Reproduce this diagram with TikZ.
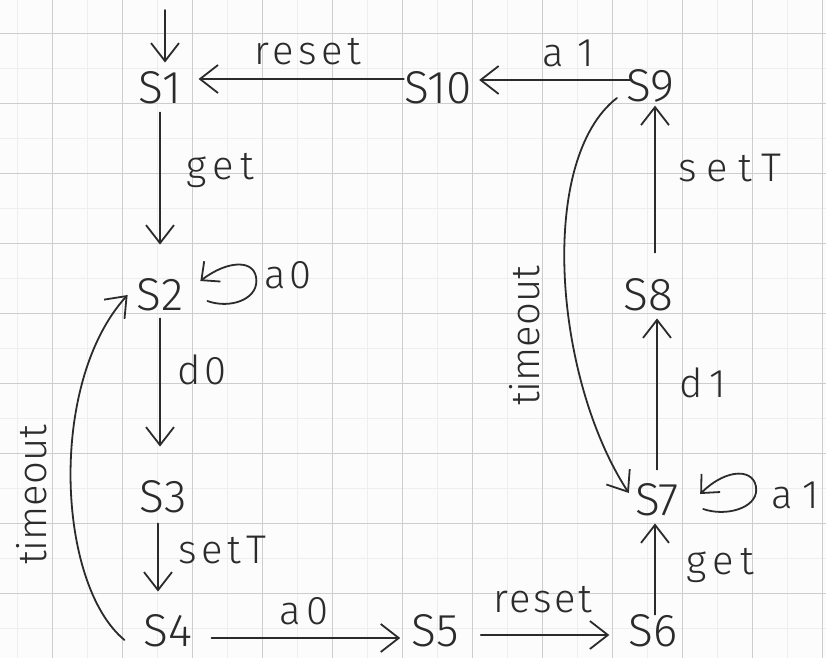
\documentclass[tikz,border=0pt]{standalone}
\usepackage{fontspec}
\setmainfont{Fira Sans Light}
\usetikzlibrary{arrows.meta,bending,calc}
\definecolor{ink}{HTML}{2B2B2B}
\definecolor{gridmajor}{HTML}{CDCDCD}
\definecolor{gridminor}{HTML}{EEEEEE}
\definecolor{paper}{HTML}{FCFCFC}
\newcommand{\spaced}[2]{{\addfontfeature{LetterSpace=#1}#2}}

\begin{document}
\begin{tikzpicture}[x=1pt,y=-1pt,
  state/.style={inner sep=0pt, text=ink, font=\fontsize{46}{46}\selectfont},
  lbl/.style={inner sep=0pt, text=ink, font=\fontsize{40}{40}\selectfont},
  trans/.style={draw=ink, line width=1.8pt, line cap=round,
    -{Straight Barb[length=18pt,width=28pt,line width=1.8pt]}},
  loopline/.style={draw=ink, line width=1.8pt, line cap=round,
    -{Straight Barb[length=14pt,width=26pt,line width=1.8pt,flex]}},
]
% paper and page size
\fill[paper] (0,0) rectangle (826,658);
\useasboundingbox (0,0) rectangle (826,658);

% squared paper: faint half lines, then the main grid
\foreach \i in {0,...,11} {
  \draw[gridminor, line width=1pt] (17.7+70*\i,0) -- (17.7+70*\i,658);
}
\foreach \j in {0,...,9} {
  \draw[gridminor, line width=1pt] (0,-1.7+70*\j) -- (826,-1.7+70*\j);
}
\foreach \i in {0,...,11} {
  \draw[gridmajor, line width=1.4pt] (52.7+70*\i,0) -- (52.7+70*\i,658);
}
\foreach \j in {0,...,8} {
  \draw[gridmajor, line width=1.4pt] (0,33.3+70*\j) -- (826,33.3+70*\j);
}

% states
\node[state] (S1)  at (160,88)  {S1};
\node[state] (S2)  at (160,295) {S2};
\node[state] (S3)  at (163,497) {S3};
\node[state] (S4)  at (168,631) {S4};
\node[state] (S5)  at (435,631) {S5};
\node[state] (S6)  at (653,631) {S6};
\node[state] (S7)  at (657,500) {S7};
\node[state] (S8)  at (648,295) {S8};
\node[state] (S9)  at (650,86)  {S9};
\node[state] (S10) at (438,88)  {S10};

% initial arrow
\coordinate (init) at (165,10);
\draw[trans, shorten >=9pt] (init) -- (init |- S1.north);

% left column
\draw[trans, shorten <=8pt, shorten >=34pt] (S1.south) -- (S2.north);
\draw[trans, shorten <=7pt, shorten >=34pt] (S2.south) -- ([xshift=-3pt]S3.north);
\draw[trans, shorten <=10pt, shorten >=23pt] ([xshift=-5pt]S3.south) -- ([xshift=-10pt]S4.north);

% bottom row
\draw[trans, shorten <=19pt, shorten >=11pt] ([yshift=-7pt]S4.east) -- ([yshift=-7pt]S5.west);
\draw[trans, shorten <=22pt, shorten >=19pt] ([yshift=-4pt]S5.east) -- ([yshift=-4pt]S6.west);

% right column
\draw[trans, shorten >=7pt] ([xshift=2pt]S6.north) -- ([xshift=-2pt]S7.south);
\draw[trans, shorten <=14pt, shorten >=7pt] (S7.north) -- ([xshift=9pt]S8.south);
\draw[trans, shorten <=26pt, shorten >=3pt] ([xshift=7pt]S8.north) -- ([xshift=5pt]S9.south);

% top row
\draw[trans, shorten <=-6pt, shorten >=7pt] ([yshift=6pt]S9.west) -- ([yshift=8pt]S10.east);
\draw[trans, shorten >=17pt] ([yshift=9pt]S10.west) -- ([yshift=9pt]S1.east);

% self loops
\draw[loopline] ($(S2.east)+(24,6)$)
  .. controls ($(S2.east)+(46,14)$) and ($(S2.east)+(73,5)$) .. ($(S2.east)+(73,-14)$)
  .. controls ($(S2.east)+(73,-37)$) and ($(S2.east)+(43,-35)$) .. ($(S2.east)+(17,-14)$);
\draw[loopline] ($(S7.east)+(24,9)$)
  .. controls ($(S7.east)+(47,17)$) and ($(S7.east)+(77,8)$) .. ($(S7.east)+(77,-10)$)
  .. controls ($(S7.east)+(77,-32)$) and ($(S7.east)+(47,-33)$) .. ($(S7.east)+(21,-6)$);

% timeout transitions
\draw[trans] ($(S4.west)+(-19,9)$) .. controls +(-68,-56) and +(-80,85) .. ($(S2.west)+(-9,0)$);
\draw[trans] ($(S9.west)+(-9,12)$) .. controls +(-80,62) and +(-75,-113) .. ($(S7.west)+(-6,-7)$);

% transition labels
\node[lbl] (Lreset1) at (308,52)  {\spaced{11}{reset}};
\node[lbl] (La1)     at (568,53)  {\spaced{40}{a1}};
\node[lbl] (Lget1)   at (220,170) {\spaced{16}{get}};
\node[lbl] (La0loop) at (288,275) {\spaced{10}{a0}};
\node[lbl] (Ld0)     at (202,370) {\spaced{10}{d0}};
\node[lbl] (LsetT1)  at (222,550) {\spaced{12}{setT}};
\node[lbl] (La0)     at (304,611) {\spaced{14}{a0}};
\node[lbl] (Lreset2) at (543,600) {\spaced{6}{reset}};
\node[lbl] (Lget2)   at (720,565) {\spaced{16}{get}};
\node[lbl] (La1loop) at (795,495) {\spaced{30}{a1}};
\node[lbl] (Ld1)     at (703,383) {\spaced{16}{d1}};
\node[lbl] (LsetT2)  at (730,168) {\spaced{25}{setT}};
\node[lbl, rotate=90] (Lto1) at (32,495)  {timeout};
\node[lbl, rotate=90] (Lto2) at (525,336) {timeout};
\end{tikzpicture}
\end{document}
